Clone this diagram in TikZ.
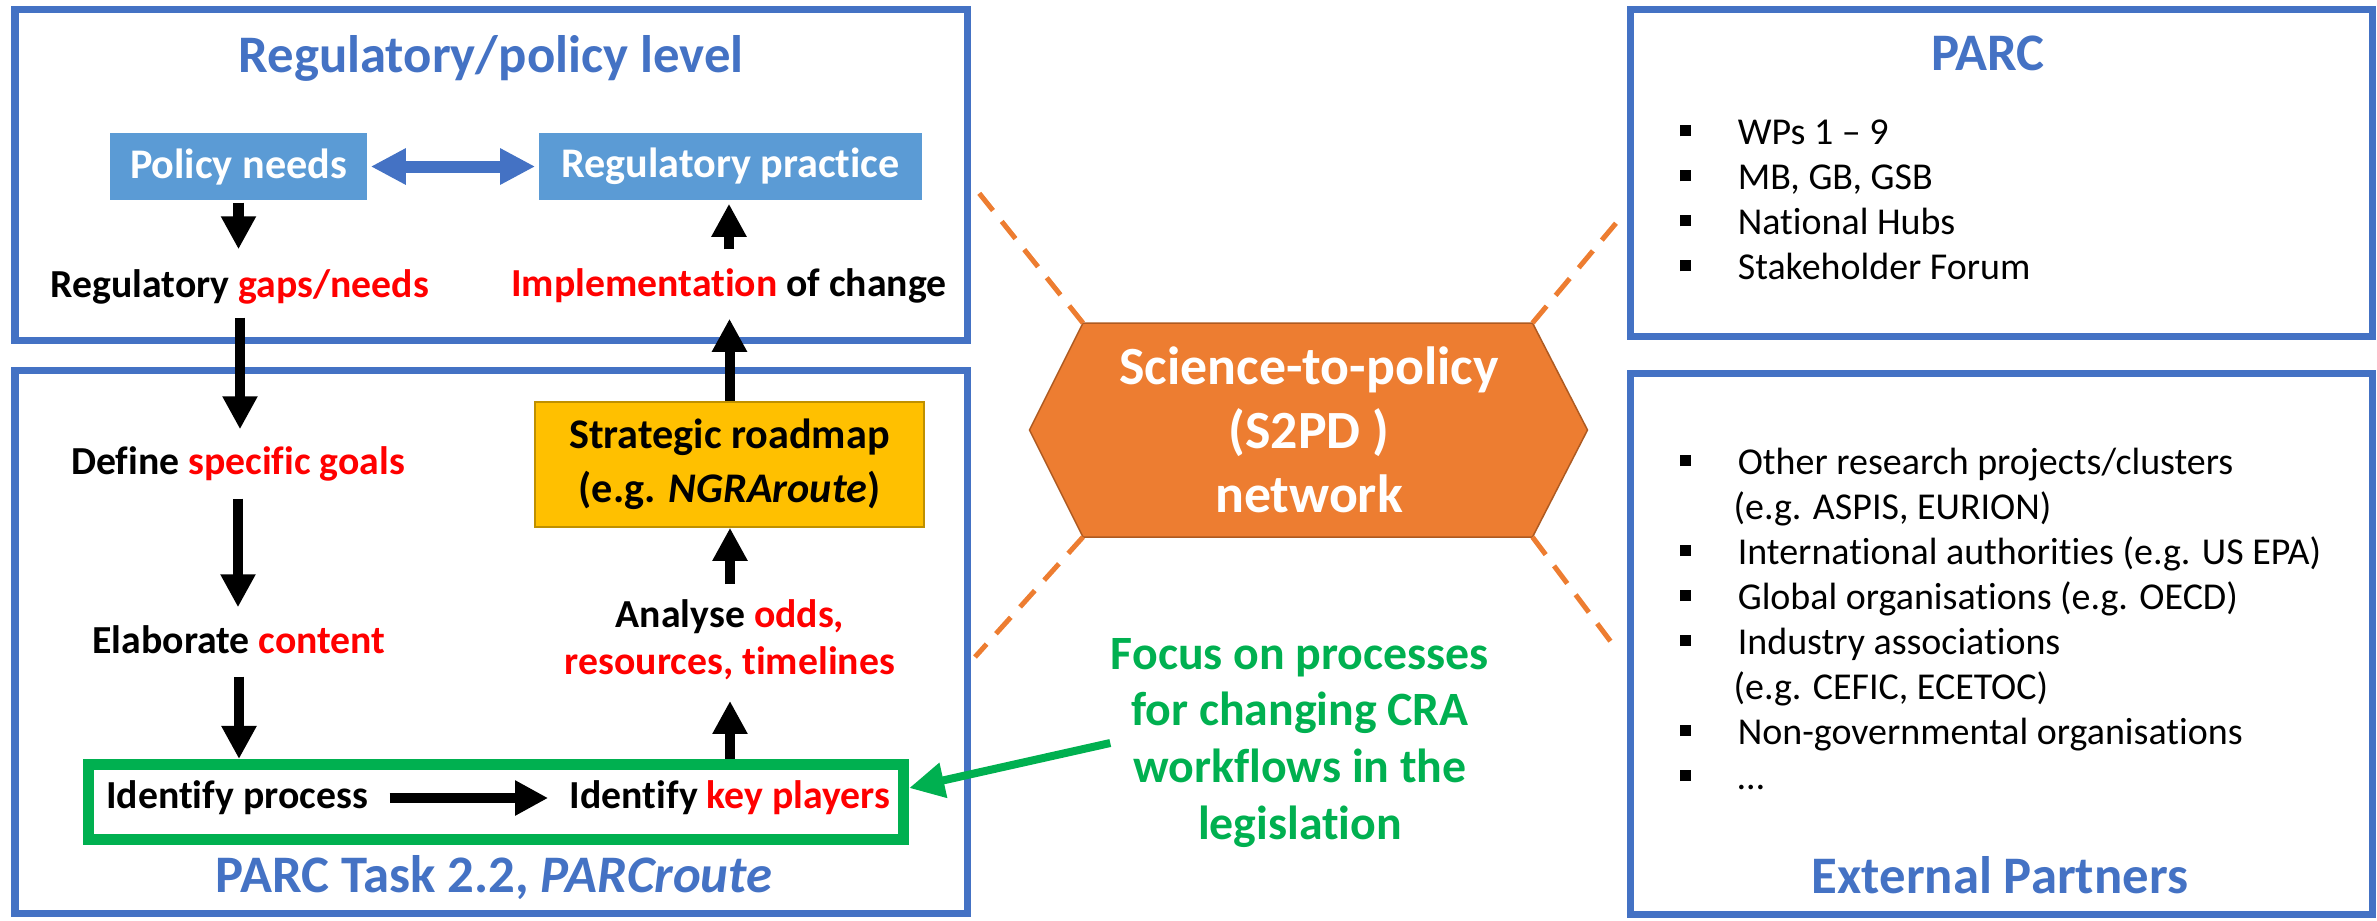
\documentclass[tikz,border=0pt]{standalone}
\usepackage{fontspec}
\setmainfont{Carlito}[Ligatures=NoCommon]
\usepackage{xcolor}
\usepackage{tikz}
\usetikzlibrary{arrows.meta,positioning}

\definecolor{panelblue}{HTML}{4472C4}
\definecolor{boxblue}{HTML}{5B9BD5}
\definecolor{hlred}{HTML}{FF0000}
\definecolor{focusgreen}{HTML}{00B050}
\definecolor{netorange}{HTML}{ED7D31}
\definecolor{netedge}{HTML}{AE5A21}
\definecolor{mapgold}{HTML}{FFC000}
\definecolor{mapedge}{HTML}{BF9000}

\newcommand{\hl}[1]{\textcolor{hlred}{#1}}
\newcommand{\bul}{\makebox[1.53em][l]{\rule[0.21em]{0.29em}{0.29em}}}

\tikzset{
  panel/.style={draw=panelblue, line width=0.07cm},
  paneltitle/.style={font=\fontsize{15}{18}\selectfont\bfseries, text=panelblue, inner sep=0, anchor=base},
  levelbox/.style={fill=boxblue, text=white, font=\fontsize{12}{14.4}\selectfont\bfseries, minimum height=0.67cm, inner sep=0},
  flowtext/.style={font=\fontsize{11.3}{13.4}\selectfont\bfseries, inner sep=0, text height=0.28cm, text depth=0.08cm, anchor=base},
  bigarrow/.style={line width=0.1cm, -{Triangle[length=0.33cm,width=0.33cm]}},
  listtext/.style={font=\fontsize{10.8}{12.8}\selectfont, align=left, inner sep=0, anchor=north west},
  netdash/.style={draw=netorange, line width=0.05cm, dash pattern=on 0.22cm off 0.14cm},
}

\begin{document}
\begin{tikzpicture}[x=0.01cm,y=-0.01cm]
  \useasboundingbox (0,0) rectangle (2377,920);

  \draw[panel] (15,9.5) rectangle (967.5,340.5);
  \draw[panel] (15,370.5) rectangle (967.5,913.5);
  \draw[panel] (1630.5,9.5) rectangle (2372.5,336.5);
  \draw[panel] (1630.5,373.5) rectangle (2372.5,914.5);

  \node[paneltitle] (regtitle) at (491,72) {Regulatory/policy level};
  \node[paneltitle] (tasktitle) at (494,892) {PARC Task 2.2, \textit{PARCroute}};
  \node[paneltitle] (parctitle) at (1988,70) {PARC};
  \node[paneltitle] (exttitle) at (2000,893) {External Partners};

  \node[levelbox, minimum width=2.57cm] (pneeds) at (238.5,166.5) {Policy needs};
  \node[levelbox, minimum width=3.83cm] (rpractice) at (730.5,166.5) {Regulatory practice};
  \draw[panelblue, line width=0.12cm, {Triangle[length=0.35cm,width=0.34cm]}-{Triangle[length=0.35cm,width=0.34cm]},
        shorten <=0.03cm, shorten >=0.03cm] (pneeds) -- (rpractice);

  \node[flowtext] (gaps) at (240,297) {Regulatory \hl{gaps/needs}};
  \node[flowtext] (impl) at (729,296) {\hl{Implementation} of change};
  \node[flowtext] (goals) at (238,474) {Define \hl{specific goals}};
  \node[flowtext] (content) at (239,653) {Elaborate \hl{content}};
  \node[font=\fontsize{11.3}{13.4}\selectfont\bfseries, align=center, inner sep=0] (analyse) at (730,640)
    {Analyse \hl{odds,}\\\hl{resources, timelines}};
  \node[fill=mapgold, draw=mapedge, line width=0.015cm, minimum width=3.89cm, minimum height=1.25cm,
        font=\fontsize{12}{15.4}\selectfont\bfseries, align=center] (roadmap) at (729.5,464.5)
    {Strategic roadmap\\(e.g. \textit{NGRAroute})};

  \node[draw=focusgreen, line width=0.11cm, minimum width=8.15cm, minimum height=0.75cm] (green) at (496,802) {};
  \node[flowtext] (procs) at (237,808) {Identify process};
  \node[flowtext] (keyp) at (730,808) {Identify \hl{key players}};

  \draw[bigarrow, shorten <=0.02cm, shorten >=0.19cm] (pneeds.south) -- (pneeds.south |- gaps.north);
  \draw[bigarrow, shorten <=0.12cm, shorten >=0.16cm] (gaps.south) -- (gaps.south |- goals.north);
  \draw[bigarrow, shorten <=0.16cm, shorten >=0.17cm] (goals.south) -- (goals.south |- content.north);
  \draw[bigarrow, shorten <=0.15cm] (content.south) -- (content.south |- green.north);
  \draw[bigarrow, shorten >=0.2cm] (green.north -| analyse.south) -- (analyse.south);
  \draw[bigarrow, shorten <=0.15cm] (analyse.north) -- (analyse.north |- roadmap.south);
  \draw[bigarrow, shorten >=0.14cm] (roadmap.north) -- (roadmap.north |- impl.south);
  \draw[bigarrow, shorten <=0.18cm, shorten >=0.03cm] (impl.north) -- (impl.north |- rpractice.south);
  \draw[bigarrow, shorten <=0.21cm, shorten >=0.21cm] (procs.east) -- (keyp.west |- procs.east);

  \coordinate (hexw) at (1029.5,430);
  \coordinate (hexnw) at (1083,323);
  \coordinate (hexne) at (1532.5,323);
  \coordinate (hexe) at (1587.5,430);
  \coordinate (hexse) at (1532.5,537);
  \coordinate (hexsw) at (1083,537);
  \draw[fill=netorange, draw=netedge, line width=0.015cm] (hexw) -- (hexnw) -- (hexne) -- (hexe) -- (hexse) -- (hexsw) -- cycle;
  \node[font=\fontsize{15.3}{18.2}\selectfont\bfseries, text=white, align=center, inner sep=0] (hex) at (1309,430)
    {Science-to-policy\\(S2PD\ )\\network};

  \coordinate (dnw) at (975,188);
  \coordinate (dne) at (1622,216);
  \coordinate (dsw) at (975,657);
  \coordinate (dse) at (1617,650);
  \draw[netdash] (hexnw) -- (dnw);
  \draw[netdash] (hexne) -- (dne);
  \draw[netdash] (hexsw) -- (dsw);
  \draw[netdash] (hexse) -- (dse);

  \node[font=\fontsize{13.6}{16.2}\selectfont\bfseries, text=focusgreen, align=center, inner sep=0] (focus) at (1300,743)
    {Focus on processes\\for changing CRA\\workflows in the\\legislation};
  \draw[focusgreen, line width=0.08cm, -{Triangle[length=0.35cm,width=0.34cm]}] (focus.west) -- ([yshift=0.14cm]green.east);

  \node[listtext] (parclist) at (1679,119)
    {\bul WPs 1 -- 9\\\bul MB, GB, GSB\\\bul National Hubs\\\bul Stakeholder Forum};
  \node[listtext] (extlist) at (1679,447)
    {\bul Other research projects/clusters\\\hspace*{1.42em}(e.g. ASPIS, EURION)\\\bul International authorities (e.g. US EPA)\\
     \bul Global organisations (e.g. OECD)\\\bul Industry associations\\\hspace*{1.42em}(e.g. CEFIC, ECETOC)\\
     \bul Non-governmental organisations\\\bul \dots};
\end{tikzpicture}
\end{document}
